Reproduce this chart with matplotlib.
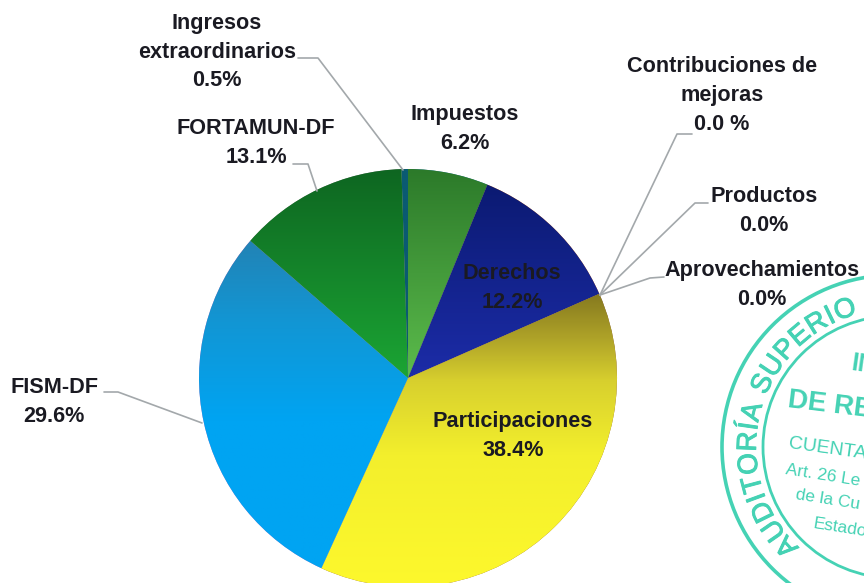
import numpy as np
import matplotlib
matplotlib.use("Agg")
import matplotlib.pyplot as plt
from matplotlib.colors import LinearSegmentedColormap
from matplotlib.patches import Circle
from matplotlib.textpath import TextPath
from matplotlib.font_manager import FontProperties
import matplotlib.patheffects as pe

categories = ["Impuestos", "Derechos", "Contribuciones de mejoras", "Productos",
              "Aprovechamientos", "Participaciones", "FISM-DF", "FORTAMUN-DF",
              "Ingresos extraordinarios"]
values = [6.2, 12.2, 0.0, 0.0, 0.0, 38.4, 29.6, 13.1, 0.5]

gradients = [
    [(0, "#2c7a2a"), (1, "#5cbc4c")],
    [(0, "#0b1a72"), (1, "#1c2ca8")],
    None, None, None,
    [(0, "#85791f"), (0.15, "#aea228"), (0.30, "#d8d02e"), (0.55, "#f3ef2c"), (1, "#fdf82c")],
    [(0, "#2283b5"), (0.25, "#1296d4"), (0.55, "#00a4f2"), (1, "#00a4f2")],
    [(0, "#0e6621"), (1, "#1ba534")],
    [(0, "#0a5a72"), (1, "#0a5a72")],
]

W, H = 864, 583
plt.rcParams["font.family"] = ["Liberation Sans", "DejaVu Sans"]
fig = plt.figure(figsize=(W / 100, H / 100), dpi=100, facecolor="white")
ax = fig.add_axes([0, 0, 1, 1])


def Y(py):
    return H - py


wedges, _ = ax.pie(values, startangle=90, counterclock=False, center=(408, Y(378)),
                   radius=209, frame=True, wedgeprops={"linewidth": 0})
for w, v, g in zip(wedges, values, gradients):
    if v <= 0 or g is None:
        continue
    bb = w.get_path().get_extents(w.get_patch_transform())
    cmap = LinearSegmentedColormap.from_list("g", g)
    im = ax.imshow(np.linspace(0, 1, 256)[:, None], cmap=cmap, aspect="auto",
                   extent=(bb.x0, bb.x1, bb.y0, bb.y1), origin="upper", zorder=2)
    im.set_clip_path(w)
ax.set_xlim(0, W)
ax.set_ylim(0, H)
ax.set_aspect("auto")
ax.axis("off")

# ---- stamp ----
teal = "#45d2b4"
cx, cy, R_out, R_in = 894, 447, 172, 131
for r, lw in ((R_out, 2.6), (R_in, 2.0)):
    ax.add_patch(Circle((cx, Y(cy)), r, fill=False, ec=teal, lw=lw, zorder=1))
arc_text = "AUDITORÍA SUPERIO"
arc_r = 138
arc_fs = 20
fp = FontProperties(family="Liberation Sans", size=arc_fs * 100 / 72)
heavy = [pe.withStroke(linewidth=0.7, foreground=teal)]


def adv(c):
    if c == " ":
        return 0.30 * arc_fs * 100 / 72
    return TextPath((0, 0), "H" + c + "H", prop=fp).get_extents().width - \
        TextPath((0, 0), "HH", prop=fp).get_extents().width


ang = np.radians(226.5)
track = 1.5
for ch in arc_text:
    w_ch = adv(ch)
    ang -= (w_ch / 2) / (arc_r + 8)
    ax.text(cx + arc_r * np.cos(ang), Y(cy) + arc_r * np.sin(ang), ch, color=teal, fontsize=arc_fs,
            rotation=np.degrees(ang) - 90, rotation_mode="anchor", ha="center", va="baseline",
            zorder=1, path_effects=heavy)
    ang -= (w_ch / 2 + track) / (arc_r + 8)
for s, x, y, fs, rot, wt in (("IN", 850, 370, 18, -8, "bold"), ("DE RE", 787, 407, 20, -7, "bold"),
                             ("CUENTA", 788, 448, 14, -8, "normal"), ("Art. 26 Le", 785, 474, 12.5, -9, "normal"),
                             ("de la Cu", 795, 499, 12.5, -9, "normal"), ("Estado", 813, 528, 12.5, -9, "normal")):
    ax.text(x, Y(y), s, color=teal, fontsize=fs, rotation=rot, rotation_mode="anchor", fontweight=wt,
            ha="left", va="baseline", zorder=1, clip_on=True)

# ---- leader lines ----
leaders = [([298, 318, 403], [58, 58, 170]),
           ([293, 308, 317], [164, 164, 191]),
           ([104, 118, 202], [392, 392, 423]),
           ([692, 677, 600], [134, 134, 295]),
           ([708, 695, 600], [203, 203, 295]),
           ([664, 650, 600], [277, 278, 295])]
for xs, ys in leaders:
    ax.plot(xs, [Y(p) for p in ys], color="#a3a8ab", lw=1.2, zorder=3, solid_capstyle="round")

# ---- labels ----
labels = [("Ingresos\nextraordinarios\n0.5%", 217, 52),
          ("FORTAMUN-DF\n13.1%", 256, 143),
          ("Impuestos\n6.2%", 465, 129),
          ("Contribuciones de\nmejoras\n0.0 %", 722, 95),
          ("Productos\n0.0%", 764, 211),
          ("Aprovechamientos\n0.0%", 762, 285),
          ("FISM-DF\n29.6%", 54, 402),
          ("Derechos\n12.2%", 512, 288),
          ("Participaciones\n38.4%", 513, 436)]
for s, x, y in labels:
    ax.text(x, Y(y), s, ha="center", va="center", fontsize=15.6, fontweight="bold",
            color="#1a1a22", linespacing=1.5, zorder=4)

fig.savefig("out.png", dpi=100)
